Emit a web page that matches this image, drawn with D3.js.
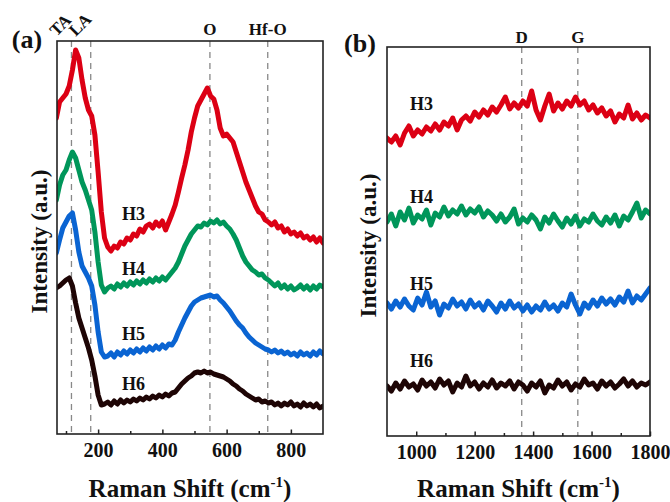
<!DOCTYPE html>
<html>
<head>
<meta charset="utf-8">
<script src="https://cdn.jsdelivr.net/npm/d3@7"></script>
<style>
  body { margin: 0; background: #fff; }
  text { font-family: "Liberation Serif", "Times New Roman", serif; font-weight: bold; fill: #111; }
</style>
</head>
<body onload="init()">
<script>
// raman shift grids (cm-1)
let shiftA = d3.range(70, 901, 10);
let shiftB = d3.range(900, 1801, 15);

let sampleNames = ["H3", "H4", "H5", "H6"];

// panel (a) intensities, a.u., one value per shiftA point
let h3A = [316,332,336,340,348,364,384,376,354,336,
           324,318,299,262,222,196,187,183,188,186,
           192,190,196,194,200,198,205,202,208,210,
           206,212,208,213,204,212,220,229,242,256,
           269,284,302,316,328,334,340,346,338,335,
           324,306,298,300,296,292,282,272,262,252,
           244,236,228,222,220,214,212,209,212,206,
           208,202,205,200,202,198,201,196,198,194,
           197,192,196,191];
let h4A = [234,249,259,264,274,282,276,264,252,244,
           234,224,202,172,149,142,146,148,145,150,
           147,151,148,152,149,153,150,154,151,155,
           152,156,153,157,154,158,162,166,172,180,
           188,194,200,204,208,207,211,209,213,211,
           214,210,212,208,205,200,194,186,178,172,
           168,164,162,159,160,156,154,151,148,151,
           146,149,145,148,144,146,149,145,148,144,
           148,145,149,147];
let h5A = [181,194,206,212,218,221,204,182,168,162,
           156,148,129,102,82,77,78,81,77,82,
           79,83,80,84,81,85,82,86,83,87,
           84,88,85,89,86,90,89,94,102,109,
           116,122,128,132,134,136,137,138,139,137,
           138,134,131,127,123,118,113,109,106,101,
           97,94,91,89,87,85,84,82,84,81,
           83,80,82,79,81,78,82,79,81,78,
           82,79,83,80];
let h6A = [146,148,151,154,156,148,131,116,106,96,
           86,74,58,39,29,30,32,29,33,30,
           34,31,34,32,35,33,36,34,37,35,
           38,36,39,37,40,38,41,42,46,50,
           53,56,58,61,62,61,63,61,62,60,
           59,58,57,55,53,50,48,45,43,40,
           38,36,34,35,32,33,31,32,29,31,
           28,31,29,32,28,30,27,31,28,30,
           27,30,26,28];

// panel (b) intensities, one value per shiftB point
let h3B = [298,294,300,291,303,310,300,306,302,309,
           305,312,306,314,310,318,306,316,320,315,
           324,319,326,321,329,324,331,339,327,333,
           328,335,330,345,326,316,330,342,325,333,
           327,335,330,339,331,335,326,331,323,328,
           320,325,314,322,318,331,317,323,316,321,
           318];
let h4B = [214,222,210,224,216,228,213,221,217,226,
           211,223,219,229,220,226,222,230,221,227,
           223,229,219,225,221,215,222,214,219,227,
           212,218,214,221,216,207,219,213,222,215,
           209,218,212,220,210,217,214,222,215,211,
           219,213,221,210,220,216,224,233,218,226,
           222];
let h5B = [133,127,135,129,137,130,126,138,131,144,
           129,135,121,132,128,137,130,134,127,136,
           129,133,126,135,130,124,133,127,135,128,
           132,125,131,124,130,126,134,127,131,125,
           133,129,142,131,122,133,128,136,130,138,
           132,137,131,139,134,145,133,140,136,142,
           148];
let h6B = [50,45,53,47,55,49,52,46,56,50,
           54,48,57,51,55,44,53,49,60,50,
           54,47,53,49,56,48,53,50,55,47,
           54,51,45,53,49,55,43,51,48,56,
           50,54,46,52,49,57,51,53,47,55,
           50,54,48,52,57,50,55,49,53,51,
           54];

// peak markers
let peaksA = [ { name: "TA", shift: 117 }, { name: "LA", shift: 177 }, { name: "O", shift: 548 }, { name: "Hf-O", shift: 728 } ];
let peaksB = [ { name: "D", shift: 1361 }, { name: "G", shift: 1553 } ];

let ticksA = [200, 400, 600, 800];
let minorA = [100, 300, 500, 700];
let ticksB = [1000, 1200, 1400, 1600, 1800];
let minorB = [1100, 1300, 1500, 1700];

let colors = ["#dc0014", "#00965a", "#0a64d2", "#1e0505"];

function init() {

  let svg = d3.select("body").append("svg")
    .attr("width", 670)
    .attr("height", 502)
    .style("background-color", "#fff");

  let panels = [
    { id: "a", shifts: shiftA, series: [h3A, h4A, h5A, h6A], peaks: peaksA, ticks: ticksA, minor: minorA,
      x: d3.scaleLinear().domain([72, 900]).range([57, 323]),
      y: d3.scaleLinear().domain([0, 393]).range([434, 41]),
      tag: [27, 48], ylab: 39, labelX: 122, labelY: [220, 275, 340, 390], peakY: 35 },
    { id: "b", shifts: shiftB, series: [h3B, h4B, h5B, h6B], peaks: peaksB, ticks: ticksB, minor: minorB,
      x: d3.scaleLinear().domain([900, 1800]).range([387, 650]),
      y: d3.scaleLinear().domain([0, 389]).range([436, 47]),
      tag: [360, 52], ylab: 368, labelX: 410, labelY: [110, 203, 290, 367], peakY: 43 }
  ];

  panels.forEach(p => {
    let [x0, x1] = p.x.range();
    let [yb, yt] = p.y.range();

    svg.append("clipPath").attr("id", "clip-" + p.id)
      .append("rect")
        .attr("x", x0).attr("y", yt)
        .attr("width", x1 - x0).attr("height", yb - yt);

    // dashed peak guides
    svg.append("g").selectAll("line")
      .data(p.peaks)
      .enter()
        .append("line")
          .attr("x1", d => p.x(d.shift))
          .attr("x2", d => p.x(d.shift))
          .attr("y1", yt)
          .attr("y2", yb)
          .attr("stroke", "#888")
          .attr("stroke-width", 1.3)
          .attr("stroke-dasharray", "6,5");

    // spectra
    let line = d3.line()
      .x((d, i) => p.x(p.shifts[i]))
      .y(d => p.y(d));

    svg.append("g")
      .attr("clip-path", "url(#clip-" + p.id + ")")
      .selectAll("path")
      .data(p.series)
      .enter()
        .append("path")
          .attr("d", d => line(d))
          .attr("fill", "none")
          .attr("stroke", (d, i) => colors[i])
          .attr("stroke-width", 5)
          .attr("stroke-linejoin", "round")
          .attr("stroke-linecap", "round");

    // sample labels
    svg.append("g").selectAll("text")
      .data(sampleNames)
      .enter()
        .append("text")
          .attr("x", p.labelX)
          .attr("y", (d, i) => p.labelY[i])
          .attr("font-size", 18)
          .text(d => d);

    // frame
    svg.append("rect")
      .attr("x", x0).attr("y", yt)
      .attr("width", x1 - x0).attr("height", yb - yt)
      .attr("fill", "none")
      .attr("stroke", "#222")
      .attr("stroke-width", 1.6);

    // bottom axis, ticks pointing inward
    let axis = svg.append("g")
      .attr("transform", "translate(0," + yb + ")")
      .call(d3.axisBottom(p.x).tickValues(p.ticks).tickSize(-4.5).tickPadding(9).tickFormat(d3.format("d")));
    axis.select(".domain").remove();
    axis.selectAll("line").attr("stroke", "#222").attr("stroke-width", 1.5);
    axis.selectAll("text")
      .attr("font-size", 20)
      .attr("font-family", "Liberation Serif, Times New Roman, serif")
      .attr("font-weight", "bold")
      .attr("fill", "#111");

    let minor = svg.append("g")
      .attr("transform", "translate(0," + yb + ")")
      .call(d3.axisBottom(p.x).tickValues(p.minor).tickSize(-3).tickFormat(""));
    minor.select(".domain").remove();
    minor.selectAll("line").attr("stroke", "#222").attr("stroke-width", 1.5);

    // peak names
    svg.append("g").selectAll("text")
      .data(p.peaks)
      .enter()
        .append("text")
          .attr("font-size", 17)
          .attr("text-anchor", d => (d.name == "TA" || d.name == "LA") ? "start" : "middle")
          .attr("transform", d => {
            if (d.name == "TA" || d.name == "LA") {
              return "translate(" + (p.x(d.shift) - 15) + "," + (p.peakY + 2) + ") rotate(-45)";
            }
            return "translate(" + p.x(d.shift) + "," + p.peakY + ")";
          })
          .text(d => d.name);

    // panel tag
    svg.append("text")
      .attr("x", p.tag[0])
      .attr("y", p.tag[1])
      .attr("text-anchor", "middle")
      .attr("font-size", 26)
      .text("(" + p.id + ")");

    // y title
    svg.append("text")
      .attr("transform", "translate(" + p.ylab + "," + ((yb + yt) / 2 + 4) + ") rotate(-90)")
      .attr("text-anchor", "middle")
      .attr("dominant-baseline", "central")
      .attr("font-size", 23)
      .text("Intensity (a.u.)");

    // x title with superscript
    let xt = svg.append("text")
      .attr("x", (x0 + x1) / 2)
      .attr("y", 497)
      .attr("text-anchor", "middle")
      .attr("font-size", 25);
    xt.append("tspan").text("Raman Shift (cm");
    xt.append("tspan").attr("dy", -10).attr("font-size", 15).text("-1");
    xt.append("tspan").attr("dy", 10).text(")");
  });
}
</script>
</body>
</html>
